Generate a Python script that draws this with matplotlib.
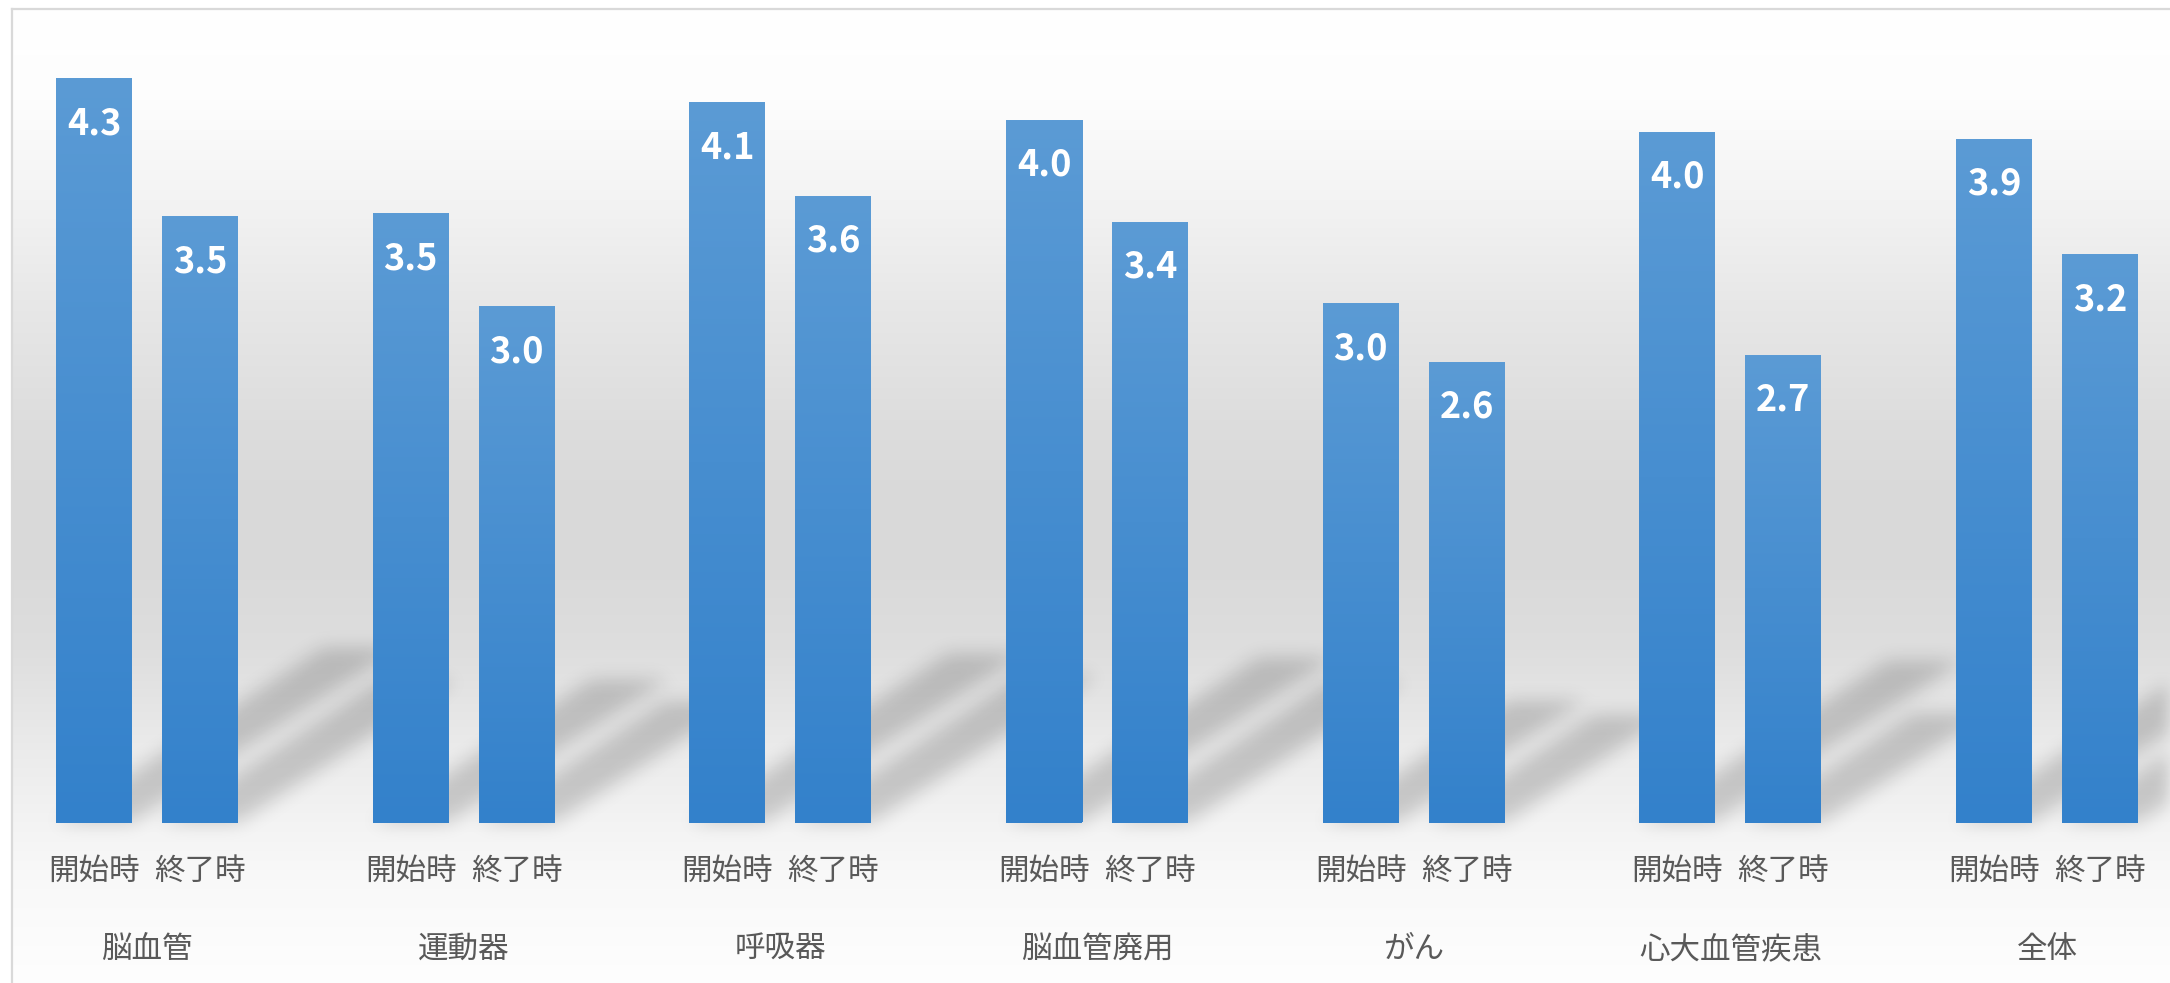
import matplotlib
matplotlib.use("Agg")
import matplotlib.pyplot as plt
import numpy as np
from matplotlib.colors import LinearSegmentedColormap
from matplotlib.collections import PolyCollection

plt.rcParams['font.family'] = ['Noto Sans CJK JP', 'DejaVu Sans']

# data
CATEGORIES = ['脳血管', '運動器', '呼吸器', '脳血管廃用', 'がん', '心大血管疾患', '全体']
SERIES = ['開始時', '終了時']
START_VALUES = [4.30, 3.52, 4.16, 4.06, 3.00, 3.99, 3.95]
END_VALUES = [3.50, 2.98, 3.62, 3.47, 2.66, 2.70, 3.28]
START_LABELS = ['4.3', '3.5', '4.1', '4.0', '3.0', '4.0', '3.9']
END_LABELS = ['3.5', '3.0', '3.6', '3.4', '2.6', '2.7', '3.2']

# layout (pixels of the output image)
W, H = 2170, 983
DPI = 100
PX_PER_CAT = 316.67
PX_PER_UNIT = 172.9
FIRST_CAT_X = 147.0
BASE_Y = 822.5
TOP_Y = 9.0
BORDER_X = 11.5
BAR_OFFSET = 53.0 / PX_PER_CAT
BAR_WIDTH = 76.0 / PX_PER_CAT

TEXT_GREY = '#595959'
BAR_TOP = '#5b9bd5'
BAR_BOTTOM = '#3381cb'

# shadow shape: the shadow of a bar leans up and to the right
SHADOW_SX = 0.36
SHADOW_SY = 0.235


def gaussian_blur(a, sigma):
    r = int(3 * sigma)
    k = np.exp(-0.5 * (np.arange(-r, r + 1) / sigma) ** 2)
    k /= k.sum()
    a = np.apply_along_axis(np.convolve, 0, a, k, mode='same')
    a = np.apply_along_axis(np.convolve, 1, a, k, mode='same')
    return a


def shadow_filter(im, dpi):
    pad = 30
    src = np.pad(im, [(pad, pad), (pad, pad), (0, 0)])
    out = np.zeros_like(src)
    out[:, :, 3] = np.clip(gaussian_blur(src[:, :, 3], 6.5), 0, 1) * 0.42
    return out, -pad, -pad


def draw_background(fig):
    bg = fig.add_axes([0, 0, 1, 1], zorder=0)
    bg.set_xlim(0, W)
    bg.set_ylim(H, 0)
    bg.axis('off')
    stops_y = [9, 100, 200, 300, 420, 500, 580, 650, 750, 822, 870, 983]
    stops_v = [255, 253, 243, 232, 221, 217, 218, 222, 235, 243, 248, 254]
    ys = np.arange(TOP_Y, H)
    grey = np.interp(ys, stops_y, stops_v) / 255.0
    img = np.repeat(grey[:, None, None], 3, axis=2)
    bg.imshow(img, extent=[BORDER_X, W, H, TOP_Y], aspect='auto',
              interpolation='bilinear')
    bg.plot([BORDER_X, BORDER_X], [TOP_Y, H], color='#d9d9d9', lw=1.6)
    bg.plot([BORDER_X, W], [TOP_Y, TOP_Y], color='#d9d9d9', lw=1.6)


def main():
    fig = plt.figure(figsize=(W / DPI, H / DPI), dpi=DPI)
    draw_background(fig)

    bottom = (H - BASE_Y) / H
    height = (BASE_Y - TOP_Y) / H
    ax = fig.add_axes([0, bottom, 1, height], zorder=1)
    ax.patch.set_visible(False)
    for s in ax.spines.values():
        s.set_visible(False)

    x = np.arange(len(CATEGORIES))
    bar_cmap = LinearSegmentedColormap.from_list('bar', [BAR_BOTTOM, BAR_TOP])
    grad = np.linspace(1, 0, 256)[:, None]

    shadows = []
    ticks = []
    tick_labels = []
    for values, labels, sign, name in [(START_VALUES, START_LABELS, -1, SERIES[0]),
                                       (END_VALUES, END_LABELS, 1, SERIES[1])]:
        pos = x + sign * BAR_OFFSET
        bars = ax.bar(pos, values, width=BAR_WIDTH, color=BAR_BOTTOM, zorder=3)
        for rect, lab in zip(bars, labels):
            x0 = rect.get_x()
            w = rect.get_width()
            h = rect.get_height()
            ax.imshow(grad, extent=[x0, x0 + w, 0, h], aspect='auto',
                      cmap=bar_cmap, zorder=4, interpolation='bilinear')
            ax.annotate(lab, xy=(x0 + w / 2, h), xytext=(0, -39.8),
                        textcoords='offset points', ha='center', va='baseline',
                        color='white', fontsize=26, fontweight='bold', zorder=5)
            dx = SHADOW_SX * h * PX_PER_UNIT / PX_PER_CAT
            dy = SHADOW_SY * h
            shadows.append([(x0, 0), (x0 + w, 0), (x0 + w + dx, dy), (x0 + dx, dy)])
        ticks.extend(pos)
        tick_labels.extend([name] * len(pos))

    shadow = PolyCollection(shadows, facecolor='black', edgecolor='none', zorder=2)
    shadow.set_agg_filter(shadow_filter)
    shadow.set_rasterized(True)
    ax.add_collection(shadow)

    ax.set_xticks(ticks, tick_labels)
    ax.tick_params(axis='x', length=0, pad=24, labelsize=22, labelcolor=TEXT_GREY)
    ax.set_yticks([])

    for i, cat in enumerate(CATEGORIES):
        ax.annotate(cat, xy=(i, 0), xycoords=('data', 'axes fraction'),
                    xytext=(0, -91.4), textcoords='offset points',
                    ha='center', va='center', fontsize=22, color=TEXT_GREY)

    ax.set_xlim(-FIRST_CAT_X / PX_PER_CAT, (W - FIRST_CAT_X) / PX_PER_CAT)
    ax.set_ylim(0, (BASE_Y - TOP_Y) / PX_PER_UNIT)

    fig.savefig('out.png', dpi=DPI)


if __name__ == "__main__":
    main()
